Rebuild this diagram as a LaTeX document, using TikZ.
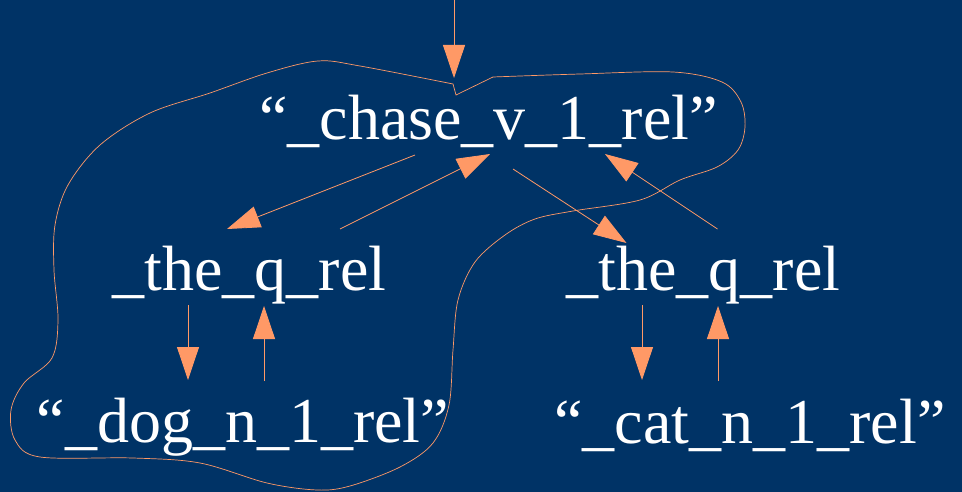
\documentclass[tikz,border=0pt]{standalone}
\usepackage{fontspec}
\setmainfont{Liberation Serif}
\usepackage{tikz}
\usetikzlibrary{arrows.meta, calc}
\definecolor{slidebg}{HTML}{003366}
\definecolor{peach}{HTML}{FF9966}

\begin{document}
\begin{tikzpicture}[x=1pt, y=-1pt,
    rel/.style={anchor=base, inner sep=0pt, text=white, font=\fontsize{64}{70}\selectfont},
    link/.style={draw=peach, line width=0.8pt, -{Triangle[length=33pt, width=22pt, fill=peach]}},
    blob/.style={draw=peach, line width=0.7pt}]
  % background, 962 x 492 (y grows downwards)
  \fill[slidebg] (0,0) rectangle (962,492);
  \useasboundingbox (0,0) rectangle (962,492);
  % relations
  \node[rel] (chase) at (488.5,140) {“\_chase\_v\_1\_rel”};
  \node[rel] (theL)  at (249.5,290) {\_the\_q\_rel};
  \node[rel] (theR)  at (703.5,290) {\_the\_q\_rel};
  \node[rel] (dog)   at (243,442)   {“\_dog\_n\_1\_rel”};
  \node[rel] (cat)   at (750,443)   {“\_cat\_n\_1\_rel”};
  % ends of the links
  \coordinate (top) at (454,0);
  \coordinate (ch-in) at ($(chase.base)+(-34.5,-62)$);
  \coordinate (ch-l)  at ($(chase.base)+(-73.5,15)$);
  \coordinate (ch-lin) at ($(chase.base)+(1.5,14)$);
  \coordinate (ch-r)  at ($(chase.base)+(24.5,29)$);
  \coordinate (ch-rin) at ($(chase.base)+(116.5,14)$);
  \coordinate (tl-in) at ($(theL.base)+(-22.5,-61)$);
  \coordinate (tl-up) at ($(theL.base)+(90.5,-61)$);
  \coordinate (tl-dn) at ($(theL.base)+(-61.5,15)$);
  \coordinate (tl-bin) at ($(theL.base)+(14.5,16)$);
  \coordinate (tr-in) at ($(theR.base)+(-77,-47)$);
  \coordinate (tr-up) at ($(theR.base)+(14,-61)$);
  \coordinate (tr-dn) at ($(theR.base)+(-61.5,15)$);
  \coordinate (tr-bin) at ($(theR.base)+(14.5,16)$);
  \coordinate (dg-in) at ($(dog.base)+(-55,-62)$);
  \coordinate (dg-up) at ($(dog.base)+(21,-61)$);
  \coordinate (ct-in) at ($(cat.base)+(-108,-63)$);
  \coordinate (ct-up) at ($(cat.base)+(-32,-62)$);
  % links
  \foreach \s/\t in {top/ch-in, ch-l/tl-in, tl-up/ch-lin, ch-r/tr-in, tr-up/ch-rin,
                     tl-dn/dg-in, dg-up/tl-bin, tr-dn/ct-in, ct-up/tr-bin}
    \draw[link] (\s) -- (\t);
  % outline round chase and the left part
  \draw[blob] plot[smooth, tension=0.55] coordinates {
      (493,77) (580,74) (673,72) (722,82) (741,102) (745,127) (738,150) (717,167)
      (680,180) (640,200) (573,211) (535,219) (505,235) (475,262) (458,300)
      (453,350) (449,405) (433,443) (400,467) (350,486) (317,490) (267,483)
      (200,463) (133,458) (40,457) (15,440) (11,410) (24,383) (52,358)
      (58,320) (54,270) (55,225) (68,185) (100,145) (150,113) (210,93)
      (267,73) (318,61) (360,66) (453,84)}
    -- (456,95) -- cycle;
\end{tikzpicture}
\end{document}
